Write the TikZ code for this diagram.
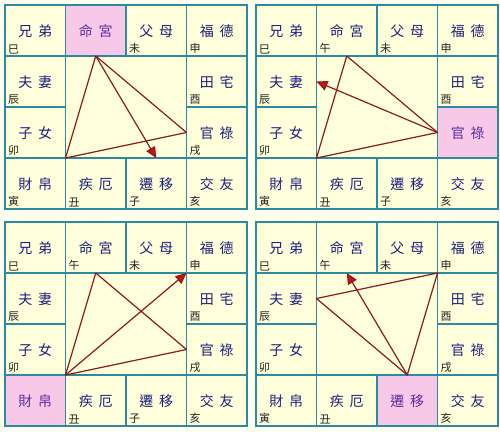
\documentclass[tikz,border=0pt]{standalone}
\usepackage{fontspec}
\setmainfont{Noto Sans CJK TC}
\usetikzlibrary{arrows.meta}
\definecolor{gridc}{HTML}{2E8A9E}
\definecolor{cellc}{HTML}{FFFFDC}
\definecolor{bgc}{HTML}{FFFFF0}
\definecolor{pinkc}{HTML}{F8C8E8}
\definecolor{namec}{HTML}{1E1E80}
\definecolor{hinamec}{HTML}{5A2E9E}
\definecolor{branchc}{HTML}{202020}
\definecolor{linec}{HTML}{8E1A1A}
\definecolor{tipc}{HTML}{D01010}
\tikzset{
  cell/.style={draw=gridc, line width=1.8pt, fill=cellc, minimum width=60.5pt,
    minimum height=51pt, inner sep=0pt, outer sep=0pt},
  hicell/.style={cell, fill=pinkc},
  innerbox/.style={draw=gridc, line width=1.8pt, fill=cellc, minimum width=121pt,
    minimum height=102pt, inner sep=0pt, outer sep=0pt},
  pname/.style={text=namec, font=\fontsize{14}{14}\selectfont, inner sep=0pt},
  hiname/.style={pname, text=hinamec},
  branch/.style={font=\fontsize{11}{11}\selectfont, text=branchc, inner sep=0pt, anchor=south west},
  link/.style={draw=linec, line width=1.2pt, line join=round},
  arrowlink/.style={link, -{Triangle[length=11pt,width=10pt,fill=tipc]}},
}
% #1 prefix, #2 key, #3 col, #4 row, #5 name, #6 branch, #7 highlighted key
\newcommand\gcell[7]{%
  \def\gckey{#2}\def\gchi{#7}%
  \ifx\gckey\gchi
    \node[hicell] (#1#2) at ({(#3+0.5)*60.5},{(#4+0.5)*51}) {};
    \node[hiname] (#1#2n) at ([yshift=-1pt]#1#2.center) {#5};
  \else
    \node[cell] (#1#2) at ({(#3+0.5)*60.5},{(#4+0.5)*51}) {};
    \node[pname] (#1#2n) at ([yshift=-1pt]#1#2.center) {#5};
    \node[branch] (#1#2b) at ([xshift=3pt,yshift=2pt]#1#2.south west) {#6};
  \fi}
% #1 prefix, #2 highlighted key
\newcommand\chartpanel[2]{%
  \node[innerbox] (#1in) at (121,102) {};
  \gcell{#1}{xiong}{0}{0}{兄\kern6pt 弟}{巳}{#2}
  \gcell{#1}{ming}{1}{0}{命\kern6pt 宮}{午}{#2}
  \gcell{#1}{fumu}{2}{0}{父\kern6pt 母}{未}{#2}
  \gcell{#1}{fude}{3}{0}{福\kern6pt 德}{申}{#2}
  \gcell{#1}{fuqi}{0}{1}{夫\kern6pt 妻}{辰}{#2}
  \gcell{#1}{tian}{3}{1}{田\kern6pt 宅}{酉}{#2}
  \gcell{#1}{zinv}{0}{2}{子\kern6pt 女}{卯}{#2}
  \gcell{#1}{guan}{3}{2}{官\kern6pt 祿}{戌}{#2}
  \gcell{#1}{cai}{0}{3}{財\kern6pt 帛}{寅}{#2}
  \gcell{#1}{ji}{1}{3}{疾\kern6pt 厄}{丑}{#2}
  \gcell{#1}{qian}{2}{3}{遷\kern6pt 移}{子}{#2}
  \gcell{#1}{jiao}{3}{3}{交\kern6pt 友}{亥}{#2}
}
\begin{document}
\begin{tikzpicture}[x=1pt,y=-1pt]
  \useasboundingbox (0,0) rectangle (500,431);
  \fill[bgc] (0,0) rectangle (500,431);
  % panel 1
  \begin{scope}[shift={(5,5)}]
    \chartpanel{pa}{ming}
  \end{scope}
  \draw[link] (paming.south) -- (pacai.north east) -- (paguan.west) -- cycle;
  \draw[arrowlink] (paming.south) -- (paqian.north);
  % panel 2
  \begin{scope}[shift={(256,5)}]
    \chartpanel{pb}{guan}
  \end{scope}
  \draw[link] (pbming.south) -- (pbcai.north east) -- (pbguan.west) -- cycle;
  \draw[arrowlink] (pbguan.west) -- (pbfuqi.east);
  % panel 3
  \begin{scope}[shift={(5,222)}]
    \chartpanel{pc}{cai}
  \end{scope}
  \draw[link] (pcming.south) -- (pccai.north east) -- (pcguan.west) -- cycle;
  \draw[arrowlink] (pccai.north east) -- (pcfude.south west);
  % panel 4
  \begin{scope}[shift={(256,222)}]
    \chartpanel{pd}{qian}
  \end{scope}
  \draw[link] (pdfuqi.east) -- (pdfude.south west) -- (pdqian.north) -- cycle;
  \draw[arrowlink] (pdqian.north) -- (pdming.south);
\end{tikzpicture}
\end{document}
